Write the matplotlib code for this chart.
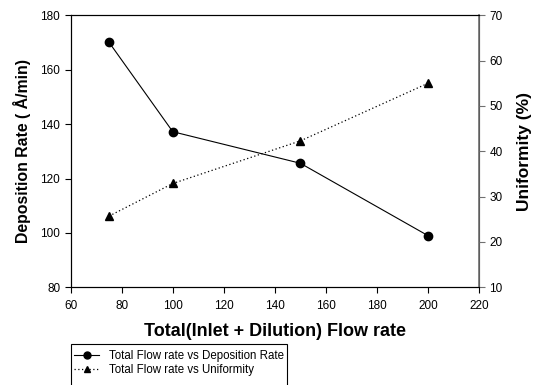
import matplotlib
matplotlib.use("Agg")
import matplotlib.pyplot as plt
from matplotlib.patches import Rectangle
from matplotlib.lines import Line2D

plt.rcParams['font.family'] = ['Liberation Sans', 'DejaVu Sans']

flow = [75, 100, 150, 200]
deposition = [170.1, 137.2, 125.6, 99.0]
uniformity = [25.7, 32.9, 42.3, 55.0]
x_ticks = [60, 80, 100, 120, 140, 160, 180, 200, 220]
left_ticks = [80, 100, 120, 140, 160, 180]
right_ticks = [10, 20, 30, 40, 50, 60, 70]

W, H = 535, 385
fig = plt.figure(figsize=(W / 100, H / 100), dpi=100)
ax = fig.add_axes([70.7 / W, 1 - 287.3 / H, (479 - 70.7) / W, (287.3 - 15.3) / H])
ax2 = ax.twinx()

ax.plot(flow, deposition, color='black', lw=0.8, marker='o', ms=6, zorder=3)
ax2.plot(flow, uniformity, color='black', lw=0.9, ls=(0, (1, 2)), marker='^', ms=6, zorder=3)

ax.set_xlim(60, 220)
ax.set_ylim(80, 180)
ax2.set_ylim(10, 70)
ax.set_xticks(x_ticks)
ax.set_yticks(left_ticks)
ax2.set_yticks(right_ticks)

for a in (ax, ax2):
    a.tick_params(labelsize=8.5, length=4, width=0.8, direction='out', colors='black')
    for s in a.spines.values():
        s.set_linewidth(0.8)
ax.tick_params(axis='x', pad=5)
ax2.spines['right'].set_color('#707070')
ax2.spines['right'].set_linewidth(1.2)
ax2.tick_params(axis='y', color='#707070', labelcolor='black')

ax.set_xlabel('Total(Inlet + Dilution) Flow rate', fontsize=13, fontweight='bold', labelpad=8)
ax.set_ylabel('Deposition Rate ( Å/min)', fontsize=11.4, fontweight='bold', labelpad=7)
ax2.set_ylabel('Uniformity (%)', fontsize=12.5, fontweight='bold', labelpad=10)

# legend box (extends past the bottom of the figure)
fig.patches.append(Rectangle((70.7 / W, 1 - 392 / H), (287 - 70.7) / W, (392 - 344) / H,
                             transform=fig.transFigure, fill=False, edgecolor='black', lw=0.8))
handles = [
    Line2D([], [], color='black', lw=0.8, marker='o', ms=5),
    Line2D([], [], color='black', lw=0.9, ls=(0, (1, 2)), marker='^', ms=5),
]
labels = ['Total Flow rate vs Deposition Rate', 'Total Flow rate vs Uniformity']
fig.legend(handles, labels, loc='upper left', bbox_to_anchor=(74 / W, 1 - 350 / H),
           frameon=False, fontsize=8.3, handlelength=2.2, handletextpad=0.8,
           labelspacing=0.2, borderaxespad=0, borderpad=0)

fig.savefig('out.png', dpi=100)
